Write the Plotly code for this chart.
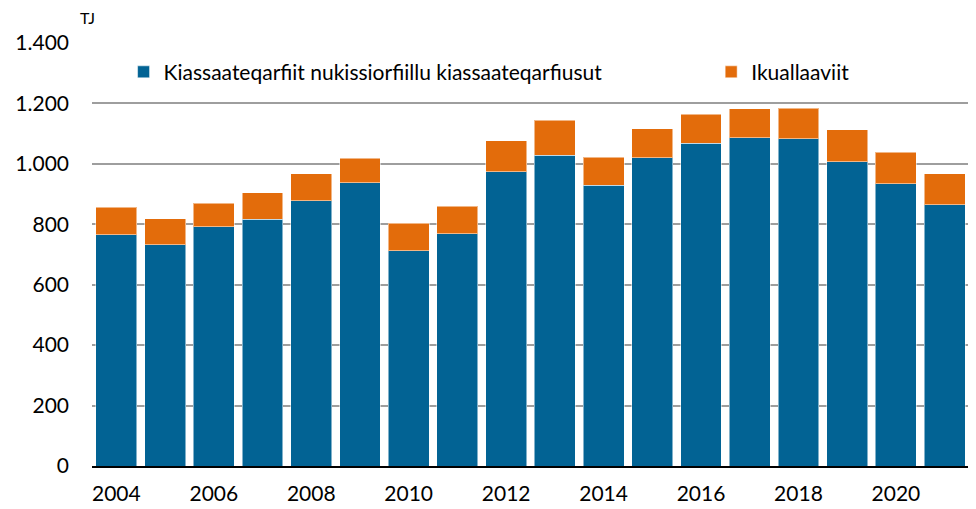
import plotly.graph_objects as go

years = list(range(2004, 2022))
district_heating = [765, 732, 792, 816, 878, 938, 712, 768, 974, 1028, 929, 1020, 1069, 1087, 1083, 1007, 935, 864]
incineration = [91, 86, 78, 89, 89, 80, 91, 91, 103, 117, 93, 97, 95, 95, 101, 106, 104, 103]
series_names = ["Kiassaateqarfiit nukissiorfiillu kiassaateqarfiusut", "Ikuallaaviit"]
x_ticks = list(range(2004, 2021, 2))
y_ticks = [0, 200, 400, 600, 800, 1000, 1200, 1400]

FONT = "Lato, Open Sans, sans-serif"
FS = 21

fig = go.Figure()
fig.add_trace(go.Bar(x=years, y=district_heating, name=series_names[0], legend="legend",
                     marker=dict(color="#026394", line=dict(color="rgba(255,255,255,0.5)", width=1))))
fig.add_trace(go.Bar(x=years, y=incineration, name=series_names[1], legend="legend2",
                     marker=dict(color="#E36C0B", line=dict(color="rgba(255,255,255,0.5)", width=1))))

# page body has an 8px margin, so the figure is sized 8px smaller and margins shifted
fig.update_layout(
    barmode="stack",
    bargap=0.16,
    width=968, height=501,
    margin=dict(l=84, r=7, t=35, b=43, autoexpand=False),
    paper_bgcolor="white", plot_bgcolor="white",
    separators=",.",
    font=dict(family=FONT, size=FS, color="#000000"),
    showlegend=True,
    legend=dict(orientation="h", x=0.036, y=0.931, xanchor="left", yanchor="middle",
                font=dict(size=FS), bgcolor="rgba(0,0,0,0)"),
    legend2=dict(orientation="h", x=0.706, y=0.931, xanchor="left", yanchor="middle",
                 font=dict(size=FS), bgcolor="rgba(0,0,0,0)"),
    xaxis=dict(range=[2003.5, 2021.5], tickvals=x_ticks, ticktext=[str(v) for v in x_ticks],
               showgrid=False, showline=True, linecolor="#000000", linewidth=2,
               ticks="", tickfont=dict(size=FS), zeroline=False, ticklabelstandoff=8),
    yaxis=dict(range=[0, 1400], tickvals=y_ticks, tickformat=",d",
               showgrid=True, gridcolor="#9e9e9e", gridwidth=2,
               showline=False, zeroline=False, ticks="", ticklabelstandoff=22,
               tickfont=dict(size=FS)),
    annotations=[dict(text="TJ", xref="paper", yref="paper", x=-0.005, y=1.061,
                      xanchor="center", yanchor="middle", showarrow=False,
                      font=dict(size=16, family=FONT))],
)

fig.write_html("out.html")
